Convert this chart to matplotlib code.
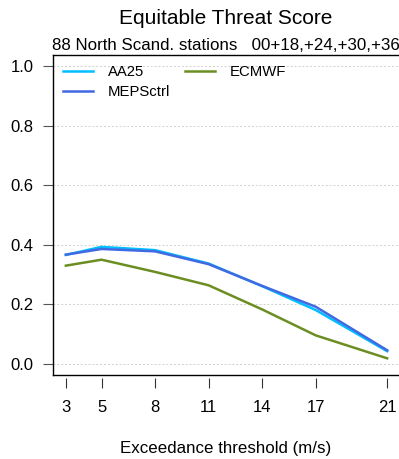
import matplotlib
matplotlib.use("Agg")
import matplotlib.pyplot as plt
from matplotlib.lines import Line2D

plt.rcParams['font.family'] = ['Liberation Sans', 'DejaVu Sans']

thresholds = [3, 5, 8, 11, 14, 17, 21]
aa25 = [0.366, 0.393, 0.382, 0.337, 0.261, 0.181, 0.043]
mepsctrl = [0.367, 0.386, 0.378, 0.335, 0.262, 0.192, 0.046]
ecmwf = [0.330, 0.350, 0.309, 0.264, 0.183, 0.096, 0.019]
series = [("AA25", aa25, "#00BFFF"), ("MEPSctrl", mepsctrl, "#4169E1"), ("ECMWF", ecmwf, "#6B8E23")]
yticks = [0.0, 0.2, 0.4, 0.6, 0.8, 1.0]

W, H = 399, 459
fig = plt.figure(figsize=(W/100, H/100), dpi=100)
ax = fig.add_axes([53/W, 84/H, 347/W, 320/H])

for y in yticks:
    ax.axhline(y, color="#D0D0D0", lw=0.7, ls=(0, (2, 2)), zorder=0)

for name, vals, col in series:
    ax.plot(thresholds, vals, color=col, lw=1.8, label=name, solid_joinstyle="round")

ax.set_xlim(2.28, 21.72)
ax.set_ylim(-0.037, 1.037)
ax.set_xticks(thresholds)
ax.set_xticklabels([str(t) for t in thresholds])
ax.set_yticks(yticks)
ax.set_yticklabels([f"{v:.1f}" for v in yticks])

ax.spines['right'].set_visible(False)
ax.spines['bottom'].set_position(('outward', 2))
ax.spines['bottom'].set_visible(False)
ax.spines['top'].set_linewidth(1.0)
ax.spines['left'].set_linewidth(1.0)
ax.add_line(Line2D([0, 1], [0, 0], transform=ax.transAxes, color='black', lw=1.0, clip_on=False))

ax.tick_params(axis='x', direction='out', length=7, width=0.8, pad=9, labelsize=12, color='#333333')
ax.tick_params(axis='y', direction='out', length=7, width=0.8, pad=7, labelsize=12, color='#555555')

ax.legend(loc='upper left', bbox_to_anchor=(0.0, 1.0), ncol=2, frameon=False, fontsize=10.7,
          handlelength=2.0, handletextpad=1.0, columnspacing=1.0, labelspacing=0.4,
          borderaxespad=0.3, borderpad=0.4)

cx = (53 + 399) / 2 / W
fig.text(cx, 1 - 18/H, "Equitable Threat Score", ha='center', va='center', fontsize=15)
fig.text(cx, 1 - 45/H, "88 North Scand. stations   00+18,+24,+30,+36", ha='center', va='center', fontsize=12.2)
fig.text(cx, 1 - 449/H, "Exceedance threshold (m/s)", ha='center', va='center', fontsize=12.2)

fig.savefig("out.png", dpi=100)
